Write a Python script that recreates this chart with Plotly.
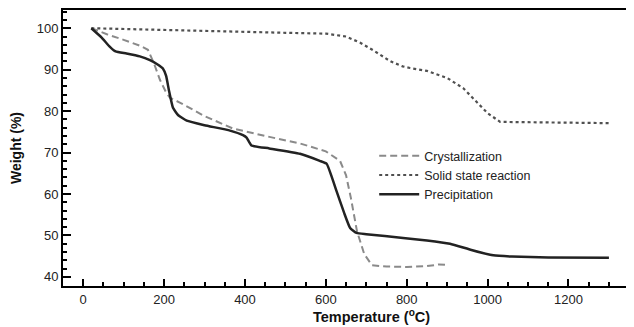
import plotly.graph_objects as go

cryst_x = [20, 60, 100, 140, 160, 175, 190, 205, 215, 240, 300, 370, 450, 536, 600, 635, 650, 662, 677, 695, 714, 750, 800, 850, 880, 900]
cryst_y = [100, 98.5, 97.2, 95.8, 94.8, 91.5, 87.5, 84.5, 83.2, 82.0, 78.8, 75.8, 74.0, 72.2, 70.3, 68.0, 64.5, 59.0, 51.0, 45.5, 42.8, 42.5, 42.4, 42.6, 43.0, 42.9]

ssr_x = [20, 100, 200, 300, 400, 500, 600, 650, 685, 720, 760, 790, 808, 850, 900, 940, 970, 1000, 1031, 1100, 1200, 1300]
ssr_y = [100, 99.8, 99.5, 99.3, 99.1, 98.9, 98.7, 98.0, 96.5, 94.5, 92.0, 90.8, 90.4, 89.7, 88.0, 85.5, 82.5, 79.5, 77.4, 77.3, 77.2, 77.1]

prec_x = [20, 45, 66, 80, 107, 140, 165, 185, 197, 205, 212, 222, 235, 256, 300, 363, 395, 404, 416, 460, 536, 585, 602, 615, 626, 645, 660, 676, 700, 791, 850, 907, 960, 1014, 1060, 1150, 1300]
prec_y = [100, 97.8, 95.5, 94.4, 93.9, 93.2, 92.3, 91.2, 90.3, 88.5, 85.0, 80.8, 79.0, 77.7, 76.6, 75.3, 74.2, 73.6, 71.7, 71.0, 69.7, 68.0, 67.3, 64.0, 60.8, 55.5, 51.8, 50.6, 50.3, 49.4, 48.8, 48.0, 46.5, 45.2, 44.9, 44.7, 44.6]

x_title = "<b>Temperature (<sup>o</sup>C)</b>"
y_title = "<b>Weight (%)</b>"

fig = go.Figure()
fig.add_trace(go.Scatter(x=cryst_x, y=cryst_y, mode="lines", name="Crystallization",
                         line=dict(color="#8a8a8a", width=2, dash="7px,4px")))
fig.add_trace(go.Scatter(x=ssr_x, y=ssr_y, mode="lines", name="Solid state reaction",
                         line=dict(color="#505050", width=2.2, dash="3px,3px")))
fig.add_trace(go.Scatter(x=prec_x, y=prec_y, mode="lines", name="Precipitation",
                         line=dict(color="#222222", width=2.5, shape="spline", smoothing=0.4)))

font = dict(family="Liberation Sans, Arial, sans-serif", size=13, color="#222")
fig.update_layout(
    width=626, height=319,
    margin=dict(l=55, r=0, t=2, b=41),
    paper_bgcolor="white", plot_bgcolor="white",
    font=font,
    showlegend=True,
    legend=dict(x=0.545, y=0.525, xanchor="left", yanchor="top",
                bgcolor="rgba(0,0,0,0)", font=dict(size=12.5, color="#222"),
                tracegroupgap=0, itemwidth=40),
    xaxis=dict(range=[-50, 1362], showgrid=False, zeroline=False,
               showline=True, linecolor="black", linewidth=2, mirror=True,
               ticks="inside", ticklen=7, tickwidth=2, tickcolor="black",
               tick0=0, dtick=200,
               minor=dict(ticks="inside", ticklen=4, dtick=50, tick0=0, tickcolor="black", tickwidth=1.5)),
    yaxis=dict(range=[37.8, 104.4], showgrid=False, zeroline=False,
               showline=True, linecolor="black", linewidth=2,
               ticks="inside", ticklen=8, tickwidth=2, tickcolor="black",
               tick0=40, dtick=10,
               minor=dict(ticks="inside", ticklen=4, dtick=2, tick0=40, tickcolor="black", tickwidth=1.5),
               title=dict(text=y_title, font=dict(size=14, color="#111"), standoff=12)),
)
fig.add_annotation(text=x_title, xref="paper", yref="paper", x=0.54, y=-0.11,
                   xanchor="center", yanchor="middle", showarrow=False,
                   font=dict(size=14.5, color="#111"))
fig.write_html("out.html")
